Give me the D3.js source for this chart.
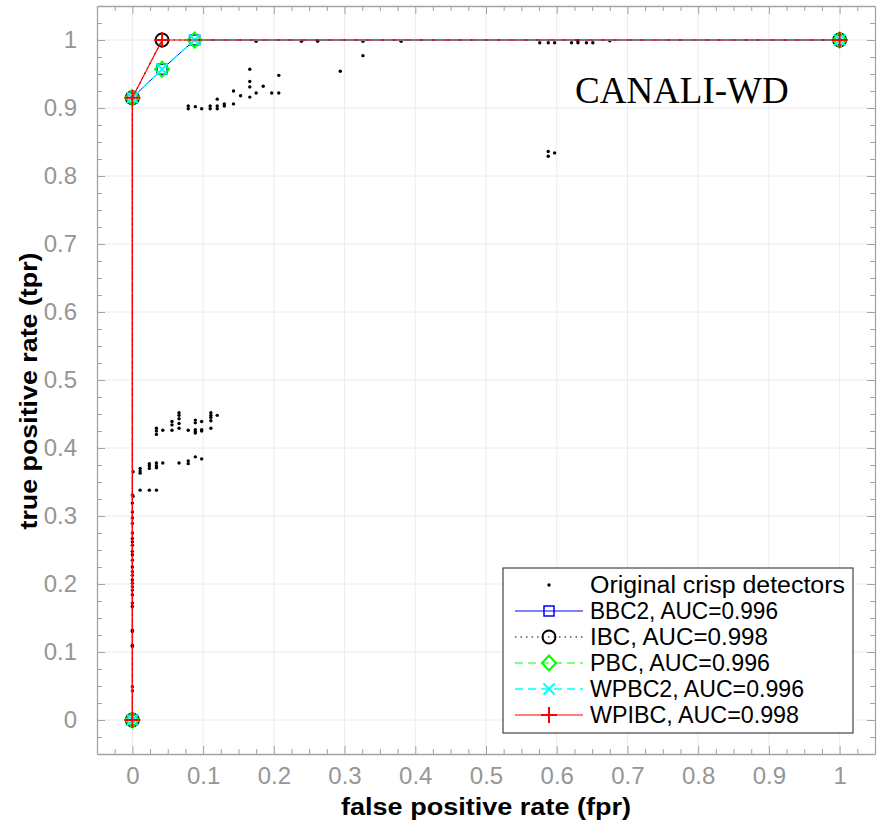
<!DOCTYPE html>
<html>
<head>
<meta charset="utf-8">
<script src="https://cdn.jsdelivr.net/npm/d3@7"></script>
<style>
  body { margin: 0; background: #fff; }
  svg { display: block; }
</style>
</head>
<body>
<svg class="chart"></svg>
<script>
// Original crisp detectors (fpr, tpr)
const crispFpr = [
  0.175, 0.239, 0.262, 0.326, 0.38, 0.675,
  0.576, 0.588, 0.597, 0.621, 0.630, 0.642, 0.651, 0.630,
  0.326, 0.294, 0.166, 0.166, 0.166, 0.166, 0.207, 0.207, 0.197, 0.185, 0.175, 0.153,
  0.143, 0.143, 0.130, 0.130, 0.120, 0.120, 0.120, 0.110, 0.110, 0.098, 0.089, 0.079, 0.079,
  0.588, 0.588, 0.597,
  0.001, 0.001, 0.011, 0.011, 0.011, 0.024, 0.024, 0.024, 0.034, 0.034, 0.034, 0.043,
  0.066, 0.079, 0.079, 0.089, 0.098, 0.011, 0.024, 0.034,
  0.034, 0.034, 0.034, 0.043, 0.056, 0.056, 0.056, 0.066, 0.066, 0.066, 0.066, 0.066,
  0.079, 0.089, 0.089, 0.089, 0.089, 0.089, 0.098, 0.098, 0.098,
  0.111, 0.111, 0.111, 0.111, 0.111, 0.120,
  0, 0, 0, 0, 0, 0, 0, 0, 0, 0, 0, 0, 0, 0,
  0, 0, 0, 0, 0, 0, 0, 0, 0, 0, 0, 0, 0, 0, 0, 0
];
const crispTpr = [
  0.998, 0.998, 0.998, 0.998, 0.998, 0.999,
  0.996, 0.996, 0.996, 0.996, 0.996, 0.996, 0.996, 0.999,
  0.977, 0.954, 0.957, 0.939, 0.931, 0.916, 0.948, 0.922, 0.922, 0.932, 0.922, 0.918,
  0.925, 0.906, 0.906, 0.903, 0.913, 0.903, 0.899, 0.903, 0.899, 0.899, 0.902, 0.903, 0.899,
  0.836, 0.829, 0.834,
  0.365, 0.329, 0.370, 0.366, 0.363, 0.377, 0.374, 0.370, 0.378, 0.374, 0.371, 0.378,
  0.378, 0.381, 0.377, 0.387, 0.384, 0.338, 0.338, 0.338,
  0.429, 0.425, 0.420, 0.426, 0.439, 0.434, 0.426, 0.452, 0.448, 0.443, 0.436, 0.429,
  0.426, 0.441, 0.437, 0.427, 0.424, 0.422, 0.439, 0.427, 0.425,
  0.452, 0.448, 0.445, 0.440, 0.429, 0.448,
  0.331, 0.319, 0.306, 0.297, 0.289, 0.275, 0.267, 0.262, 0.257, 0.248, 0.243, 0.235, 0.225, 0.218,
  0.213, 0.206, 0.201, 0.196, 0.191, 0.184, 0.172, 0.167, 0.132, 0.130, 0.110, 0.108, 0.049, 0.043, 0, 0.915
];

// ROC curves of the combined classifiers
const bbc2Fpr = [0, 0, 0.042, 0.088, 1];
const bbc2Tpr = [0, 0.915, 0.957, 1, 1];
const ibcFpr = [0, 0, 0.042, 1];
const ibcTpr = [0, 0.915, 1, 1];
const pbcFpr = [0, 0, 0.042, 0.088, 1];
const pbcTpr = [0, 0.915, 0.957, 1, 1];
const wpbc2Fpr = [0, 0, 0.042, 0.088, 1];
const wpbc2Tpr = [0, 0.915, 0.957, 1, 1];
const wpibcFpr = [0, 0, 0.042, 1];
const wpibcTpr = [0, 0.915, 1, 1];

const seriesNames = ['BBC2', 'IBC', 'PBC', 'WPBC2', 'WPIBC'];
const seriesAuc = ['0.996', '0.998', '0.996', '0.996', '0.998'];
const crispLabel = 'Original crisp detectors';

const xTicks = [0, 0.1, 0.2, 0.3, 0.4, 0.5, 0.6, 0.7, 0.8, 0.9, 1];
const yTicks = [0, 0.1, 0.2, 0.3, 0.4, 0.5, 0.6, 0.7, 0.8, 0.9, 1];
const tickLabels = ['0', '0.1', '0.2', '0.3', '0.4', '0.5', '0.6', '0.7', '0.8', '0.9', '1'];

const svgWidth = 881;
const svgHeight = 821;
const margin = { top: 6, right: 6, bottom: 67, left: 97 };
const chartWidth = svgWidth - margin.left - margin.right;
const chartHeight = svgHeight - margin.top - margin.bottom;

const svg = d3.select('.chart')
  .attr('width', svgWidth)
  .attr('height', svgHeight);

const chart = svg.append('g')
  .attr('transform', 'translate(' + margin.left + ',' + margin.top + ')');

const xScale = d3.scaleLinear().domain([-0.05, 1.05]).range([0, chartWidth]);
const yScale = d3.scaleLinear().domain([-0.05, 1.05]).range([chartHeight, 0]);

const axisColor = '#a3a3a3';
const labelColor = '#969696';
const font = '"Liberation Sans", Arial, sans-serif';
const minorTicks = d3.range(-0.025, 1.05, 0.025).filter(v => Math.abs(Math.round(v * 10) - v * 10) > 0.01);

// grid
chart.append('g')
  .selectAll('line')
  .data(xTicks)
  .enter().append('line')
  .attr('x1', d => xScale(d)).attr('x2', d => xScale(d))
  .attr('y1', 0).attr('y2', chartHeight)
  .attr('stroke', '#ececec').attr('stroke-width', 1);

chart.append('g')
  .selectAll('line')
  .data(yTicks)
  .enter().append('line')
  .attr('y1', d => yScale(d)).attr('y2', d => yScale(d))
  .attr('x1', 0).attr('x2', chartWidth)
  .attr('stroke', '#ececec').attr('stroke-width', 1);

// axes with inward ticks on all four sides
function styleAxis(g) {
  g.selectAll('path').attr('stroke', axisColor).attr('stroke-width', 1.3);
  g.selectAll('line').attr('stroke', axisColor).attr('stroke-width', 1);
}

const fmt = d => tickLabels[xTicks.indexOf(d)];

const xAxisGroup = chart.append('g')
  .attr('transform', 'translate(0,' + chartHeight + ')')
  .call(d3.axisBottom(xScale).tickValues(xTicks).tickSize(-8).tickSizeOuter(0).tickPadding(13).tickFormat(fmt));
chart.append('g')
  .attr('transform', 'translate(0,' + chartHeight + ')')
  .call(d3.axisBottom(xScale).tickValues(minorTicks).tickSize(-5).tickSizeOuter(0).tickFormat(''))
  .call(g => g.select('path').remove())
  .call(styleAxis);
chart.append('g')
  .call(d3.axisTop(xScale).tickValues(xTicks).tickSize(-8).tickSizeOuter(0).tickFormat(''))
  .call(styleAxis);
chart.append('g')
  .call(d3.axisTop(xScale).tickValues(minorTicks).tickSize(-5).tickSizeOuter(0).tickFormat(''))
  .call(g => g.select('path').remove())
  .call(styleAxis);

const yAxisGroup = chart.append('g')
  .call(d3.axisLeft(yScale).tickValues(yTicks).tickSize(-8).tickSizeOuter(0).tickPadding(20).tickFormat(fmt));
chart.append('g')
  .call(d3.axisLeft(yScale).tickValues(minorTicks).tickSize(-5).tickSizeOuter(0).tickFormat(''))
  .call(g => g.select('path').remove())
  .call(styleAxis);
chart.append('g')
  .attr('transform', 'translate(' + chartWidth + ',0)')
  .call(d3.axisRight(yScale).tickValues(yTicks).tickSize(-8).tickSizeOuter(0).tickFormat(''))
  .call(styleAxis);
chart.append('g')
  .attr('transform', 'translate(' + chartWidth + ',0)')
  .call(d3.axisRight(yScale).tickValues(minorTicks).tickSize(-5).tickSizeOuter(0).tickFormat(''))
  .call(g => g.select('path').remove())
  .call(styleAxis);

[xAxisGroup, yAxisGroup].forEach(g => {
  styleAxis(g);
  g.selectAll('text')
    .attr('fill', labelColor)
    .attr('font-family', font)
    .attr('font-size', '24px');
});

// axis labels
svg.append('text')
  .attr('x', margin.left + chartWidth / 2)
  .attr('y', 815)
  .attr('text-anchor', 'middle')
  .attr('font-family', font)
  .attr('font-weight', 'bold')
  .attr('font-size', '23px')
  .attr('textLength', 290)
  .attr('lengthAdjust', 'spacingAndGlyphs')
  .attr('fill', '#000')
  .text('false positive rate (fpr)');

svg.append('text')
  .attr('transform', 'translate(37,' + (margin.top + chartHeight / 2 + 11) + ') rotate(-90)')
  .attr('text-anchor', 'middle')
  .attr('font-family', font)
  .attr('font-weight', 'bold')
  .attr('font-size', '24px')
  .attr('textLength', 277)
  .attr('lengthAdjust', 'spacingAndGlyphs')
  .attr('fill', '#000')
  .text('true positive rate (tpr)');

// crisp detector points
const crispData = crispFpr.map((f, i) => ({ fpr: f, tpr: crispTpr[i] }));
chart.append('g')
  .selectAll('circle')
  .data(crispData)
  .enter().append('circle')
  .attr('cx', d => xScale(d.fpr))
  .attr('cy', d => yScale(d.tpr))
  .attr('r', 1.7)
  .attr('fill', '#000');

// marker shapes
function drawMarker(g, type, color, cx, cy) {
  if (type === 'square') {
    g.append('rect').attr('x', cx - 5).attr('y', cy - 5).attr('width', 10).attr('height', 10)
      .attr('fill', 'none').attr('stroke', color).attr('stroke-width', 1.5);
  } else if (type === 'circle') {
    g.append('circle').attr('cx', cx).attr('cy', cy).attr('r', 6.5)
      .attr('fill', 'none').attr('stroke', color).attr('stroke-width', 2);
  } else if (type === 'diamond') {
    g.append('path').attr('d', `M${cx},${cy - 7.5}L${cx + 7},${cy}L${cx},${cy + 7.5}L${cx - 7},${cy}Z`)
      .attr('fill', 'none').attr('stroke', color).attr('stroke-width', 2);
  } else if (type === 'x') {
    g.append('path').attr('d', `M${cx - 5.5},${cy - 5.5}L${cx + 5.5},${cy + 5.5}M${cx - 5.5},${cy + 5.5}L${cx + 5.5},${cy - 5.5}`)
      .attr('stroke', color).attr('stroke-width', 2);
  } else if (type === 'plus') {
    g.append('path').attr('d', `M${cx - 8},${cy}L${cx + 8},${cy}M${cx},${cy - 8}L${cx},${cy + 8}`)
      .attr('stroke', color).attr('stroke-width', 2);
  }
}

const curves = [
  { fpr: bbc2Fpr, tpr: bbc2Tpr, color: '#0000ff', dash: null, marker: 'square', width: 1 },
  { fpr: ibcFpr, tpr: ibcTpr, color: '#000000', dash: '1.5 4', marker: 'circle', width: 1.2 },
  { fpr: pbcFpr, tpr: pbcTpr, color: '#00ff00', dash: '8 5', marker: 'diamond', width: 1 },
  { fpr: wpbc2Fpr, tpr: wpbc2Tpr, color: '#00ffff', dash: '8 5', marker: 'x', width: 1.5 },
  { fpr: wpibcFpr, tpr: wpibcTpr, color: '#ff0000', dash: null, marker: 'plus', width: 1.2 }
];

const line = d3.line().x(d => xScale(d[0])).y(d => yScale(d[1]));

curves.forEach(c => {
  const pts = c.fpr.map((f, i) => [f, c.tpr[i]]);
  const g = chart.append('g');
  g.append('path')
    .datum(pts)
    .attr('fill', 'none')
    .attr('stroke', c.color)
    .attr('stroke-width', c.width)
    .attr('stroke-dasharray', c.dash)
    .attr('d', line);
  pts.forEach(p => drawMarker(g, c.marker, c.color, xScale(p[0]), yScale(p[1])));
});

// title inside plot
svg.append('text')
  .attr('x', 575)
  .attr('y', 103)
  .attr('font-family', '"Liberation Serif", "Times New Roman", serif')
  .attr('font-size', '37px')
  .attr('fill', '#000')
  .text('CANALI-WD');

// legend
const legend = svg.append('g').attr('transform', 'translate(503,568)');
legend.append('rect')
  .attr('width', 350)
  .attr('height', 165)
  .attr('fill', '#fff')
  .attr('stroke', '#444')
  .attr('stroke-width', 1.2);

const rowY = i => 17 + i * 26;

legend.append('circle').attr('cx', 46).attr('cy', rowY(0)).attr('r', 1.7).attr('fill', '#000');
legend.append('text')
  .attr('x', 87).attr('y', rowY(0) + 8)
  .attr('font-family', font).attr('font-size', '23px').attr('fill', '#000')
  .attr('textLength', 255).attr('lengthAdjust', 'spacingAndGlyphs')
  .text(crispLabel);

// reference widths of the legend entries, in pixels
const legendTextWidth = [188, 178, 180, 214, 209];

curves.forEach((c, i) => {
  const y = rowY(i + 1);
  const g = legend.append('g');
  g.append('line')
    .attr('x1', 12).attr('x2', 80).attr('y1', y).attr('y2', y)
    .attr('stroke', c.color).attr('stroke-width', c.width)
    .attr('stroke-dasharray', c.dash);
  drawMarker(g, c.marker, c.color, 46, y);
  g.append('text')
    .attr('x', 87).attr('y', y + 8)
    .attr('font-family', font).attr('font-size', '23px').attr('fill', '#000')
    .attr('textLength', legendTextWidth[i]).attr('lengthAdjust', 'spacingAndGlyphs')
    .text(seriesNames[i] + ', AUC=' + seriesAuc[i]);
});
</script>
</body>
</html>
